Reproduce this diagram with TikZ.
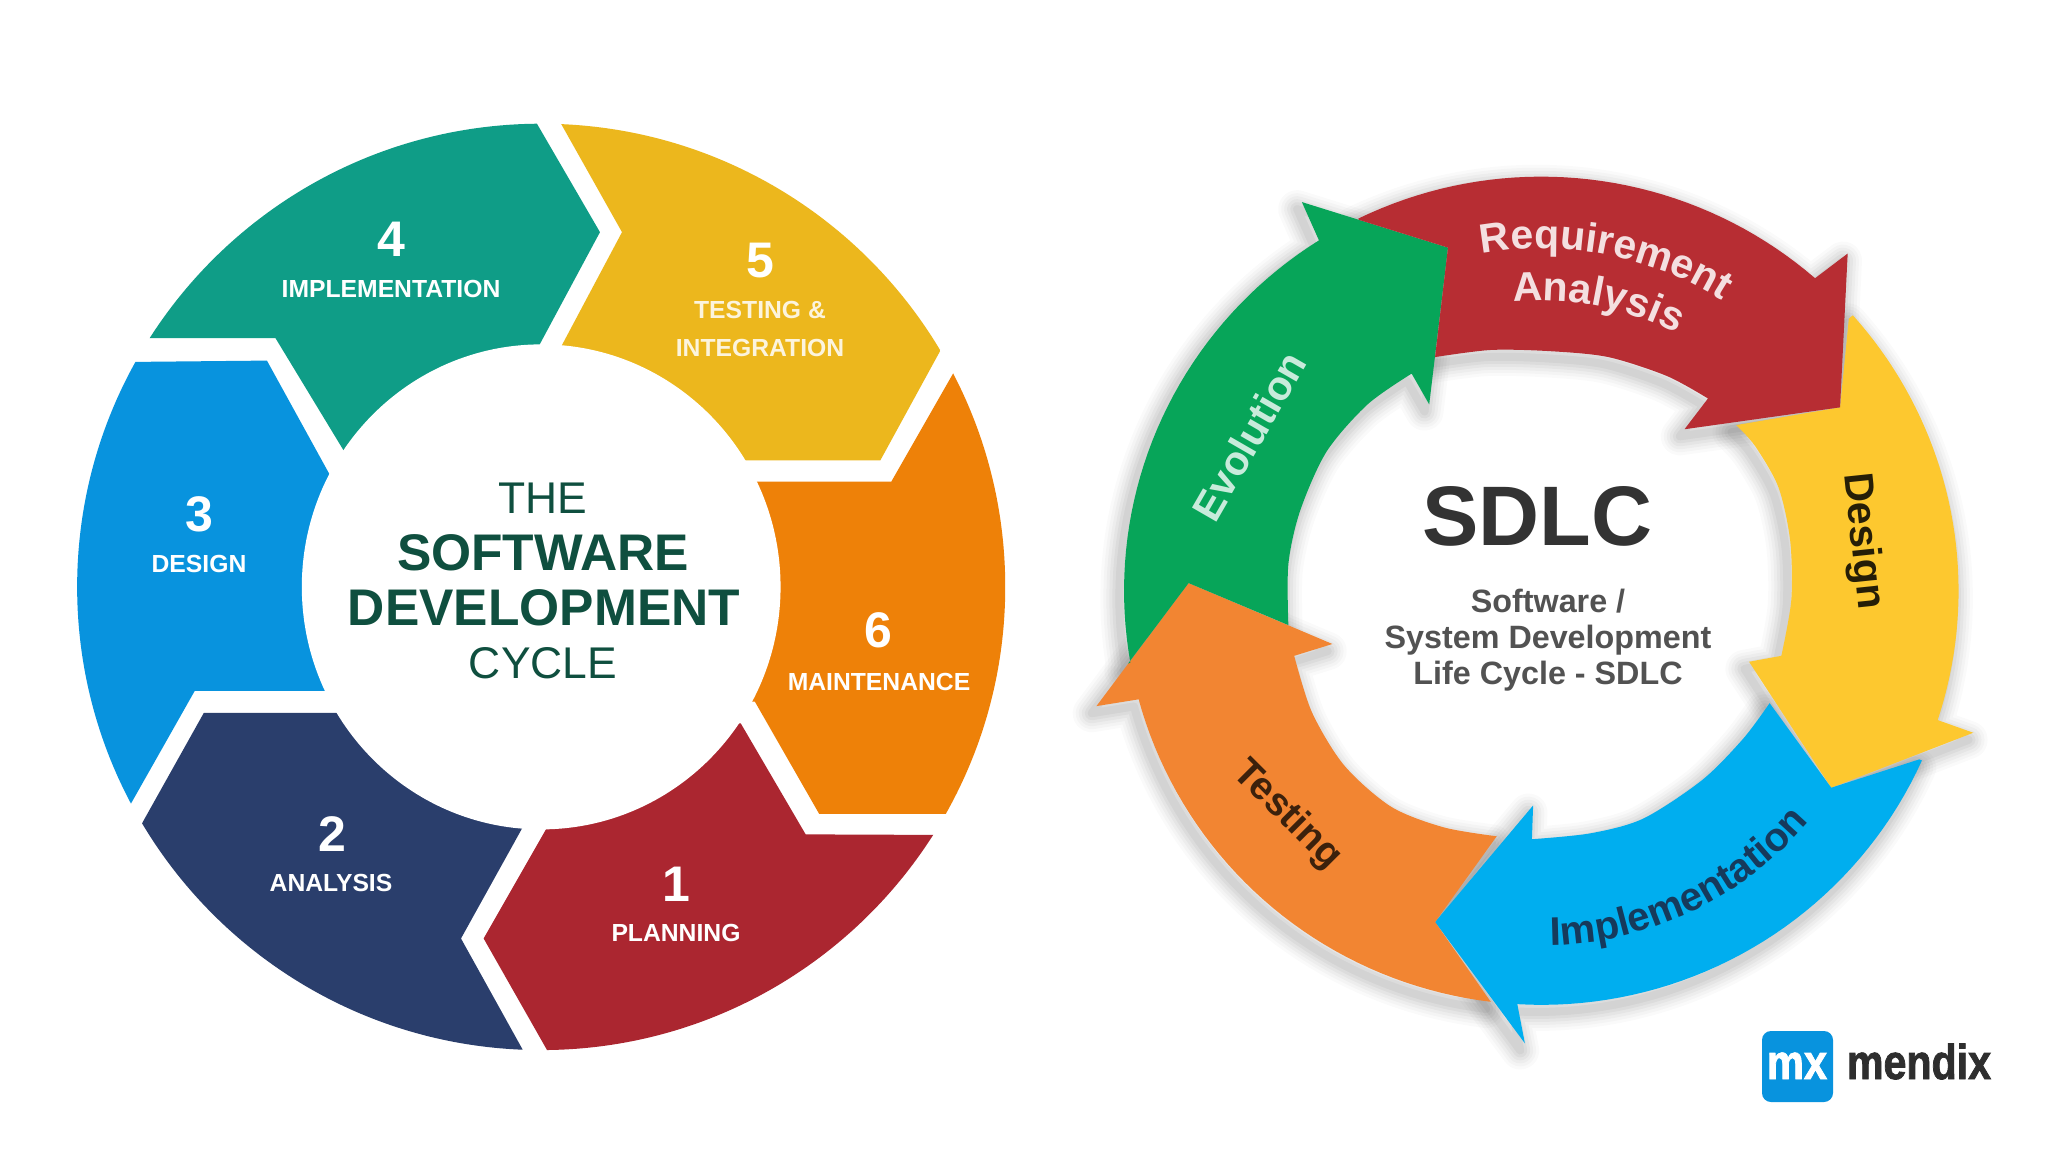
\documentclass[tikz,border=0pt]{standalone}
\usepackage{fontspec}
\setmainfont{Liberation Sans}
\newfontfamily\logofont[FakeBold=1.8]{Liberation Sans}
\usetikzlibrary{decorations.text}
\definecolor{cteal}{HTML}{0F9D87}
\definecolor{cyel}{HTML}{ECB71D}
\definecolor{corg}{HTML}{EE8108}
\definecolor{cred}{HTML}{AB2630}
\definecolor{cnavy}{HTML}{2A3E6C}
\definecolor{cblue}{HTML}{0893DE}
\definecolor{cgreen}{HTML}{0F4F3F}
\definecolor{rred}{HTML}{B72D33}
\definecolor{rgreen}{HTML}{07A559}
\definecolor{rorg}{HTML}{F28532}
\definecolor{rblue}{HTML}{00AEEF}
\definecolor{ryel}{HTML}{FDC82F}
\definecolor{rnavy}{HTML}{163A5C}
\tikzset{
  num/.style={text=white,font=\fontsize{50}{50}\selectfont\bfseries,inner sep=0pt},
  lab/.style={text=white,font=\fontsize{24.7}{25}\selectfont\bfseries,inner sep=0pt},
  centreb/.style={text=cgreen,font=\fontsize{51.5}{52}\selectfont\bfseries,inner sep=0pt},
  centrer/.style={text=cgreen,font=\fontsize{44.4}{45}\selectfont,inner sep=0pt},
  subt/.style={text=black!68,font=\fontsize{32.3}{33}\selectfont\bfseries,inner sep=0pt,anchor=base},
  arclab/.style={font=\fontsize{41}{41}\selectfont\bfseries,inner sep=0pt,anchor=base}
}
\def\pathred{(475,118) -- plot[domain=244:311,samples=40] ({786+711*cos(\x)},{745+700*sin(\x)}) -- (1308,175) -- (1295,435) -- (1030,472) -- (1070,420) -- plot[smooth] coordinates {(1070,420) (1000,382) (900,350) (800,340) (700,338) (605,350)} -- (627,165) -- cycle}
\def\pathyel{(1310,285) -- plot[domain=-41.7:18.2,samples=40] ({786+711*cos(\x)},{745+700*sin(\x)}) -- (1522,985) -- (1280,1078) -- (1140,865) -- (1195,855) -- plot[smooth] coordinates {(1195,855) (1212,760) (1210,660) (1190,570) (1150,500) (1118,465)} -- (1295,435) -- cycle}
\def\pathblu{(1430,1030) -- plot[domain=24.2:93.3,samples=40] ({786+711*cos(\x)},{745+700*sin(\x)}) -- (758,1510) -- (605,1305) -- (772,1108) -- (770,1165) -- plot[smooth] coordinates {(770,1165) (870,1155) (960,1130) (1060,1065) (1130,995) (1175,935)} -- (1280,1078) -- cycle}
\def\pathorg{(700,1440) -- plot[domain=97:164.8,samples=40] ({786+711*cos(\x)},{745+700*sin(\x)}) -- (28,940) -- (185,732) -- (430,835) -- (365,855) -- plot[smooth] coordinates {(365,855) (395,950) (450,1040) (530,1110) (620,1145) (710,1160)} -- (605,1305) -- cycle}
\def\pathgrn{(82,868) -- plot[domain=170:237.8,samples=40] ({786+711*cos(\x)},{745+700*sin(\x)}) -- (378,88) -- (627,165) -- (595,430) -- (565,378) -- plot[smooth] coordinates {(565,378) (490,430) (420,510) (375,610) (355,700) (355,803)} -- (185,732) -- cycle}
\begin{document}
\begin{tikzpicture}[x=1pt,y=-1pt]
\fill[white] (0,0) rectangle (2048,1152);
\path[use as bounding box] (0,0) rectangle (2048,1152);

% left wheel, coordinates of the 960x980 crop
\begin{scope}[shift={(60,100)},x=0.6122pt,y=-0.6234pt]
  \begin{scope}
    \clip (786,781) ellipse [x radius=758,y radius=743];
    \fill[cteal] (-50,382) -- (352,382) -- (520,654) -- (730,490) -- (882,212) -- (727,-50) -- (-50,-50) -- cycle;
    \fill[cyel] (768,-50) -- (918,212) -- (820,393) -- (730,560) -- (1118,578) -- (1340,578) -- (1620,75) -- (1620,-50) -- cycle;
    \fill[corg] (1621,160) -- (1358,612) -- (1145,612) -- (900,612) -- (1000,965) -- (1135,965) -- (1240,1145) -- (1700,1145) -- (1700,160) -- cycle;
    \fill[cred] (1700,1180) -- (1218,1178) -- (1112,1000) -- (900,1000) -- (795,1168) -- (692,1345) -- (795,1523) -- (830,1600) -- (1700,1600) -- cycle;
    \fill[cnavy] (-50,1500) -- (137,1155) -- (235,983) -- (450,983) -- (640,1000) -- (755,1168) -- (655,1345) -- (755,1522) -- (800,1600) -- (-50,1600) -- cycle;
    \fill[cblue] (-50,1420) -- (118,1125) -- (220,948) -- (432,948) -- (640,900) -- (560,800) -- (440,600) -- (338,418) -- (135,420) -- (-50,420) -- cycle;
  \end{scope}
  \fill[white] (786,781) ellipse [x radius=391,y radius=389];
\end{scope}

\node[num] (n4) at (391,239) {4};
\node[lab] (l4) at (391,289) {IMPLEMENTATION};
\node[num] (n5) at (760,261) {5};
\node[lab,text=white!85!cyel] (l5a) at (760,310) {TESTING \&};
\node[lab,text=white!85!cyel] (l5b) at (760,348) {INTEGRATION};
\node[num] (n6) at (878,630) {6};
\node[lab] (l6) at (879,682) {MAINTENANCE};
\node[num] (n1) at (676,884) {1};
\node[lab] (l1) at (676,933) {PLANNING};
\node[num] (n2) at (332,834) {2};
\node[lab] (l2) at (331,883) {ANALYSIS};
\node[num] (n3) at (199,514) {3};
\node[lab] (l3) at (199,564) {DESIGN};

\node[centrer] (the) at (543,498) {THE};
\node[centreb] (soft) at (543,553) {SOFTWARE};
\node[centreb] (dev) at (544,608) {DEVELOPMENT};
\node[centrer] (cyc) at (543,663) {CYCLE};

% right ring, coordinates of the 920x930 crop
\begin{scope}[shift={(1080,150)},x=0.5869pt,y=-0.5916pt]
  \begin{scope}[shift={(-8,12)}]
  \foreach \w/\o in {38/.018,32/.022,26/.026,20/.03,14/.034,8/.038} {
    \foreach \p in {\pathred,\pathyel,\pathblu,\pathorg,\pathgrn} {
      \draw[line width=\w pt,black,opacity=\o,line join=round] \p;
    }
  }
  \end{scope}
  \fill[ryel] \pathyel;
  \fill[rblue] \pathblu;
  \fill[rorg] \pathorg;
  \fill[rgreen] \pathgrn;
  \fill[rred] \pathred;
  % baselines of the curved labels
  \path[postaction={decorate,decoration={text along path,text align=center,text color=white!85!rred,
     text={|\fontsize{41}{41}\selectfont\bfseries|Requirement}}}]
     plot[domain=256:306,samples=30] ({786+583*cos(\x)},{745+578*sin(\x)});
  \path[postaction={decorate,decoration={text along path,text align=center,text color=white!85!rred,
     text={|\fontsize{41}{41}\selectfont\bfseries|Analysis}}}]
     plot[domain=257:305,samples=30] ({786+500*cos(\x)},{745+490*sin(\x)});
  \path[postaction={decorate,decoration={text along path,text align=center,text color=rnavy,
     text={|\fontsize{40}{40}\selectfont\bfseries|Implementation}}}]
     plot[domain=96:33,samples=30] ({786+600*cos(\x)},{745+600*sin(\x)});
\end{scope}

\node[arclab,anchor=center,rotate=60,text=white!78!rgreen] (evo) at (1249,436) {Evolution};
\node[arclab,anchor=center,rotate=-84,text=black!85!ryel] (des) at (1862,541) {Design};
\node[arclab,anchor=center,rotate=-45,text=black!75!rorg,font=\fontsize{39}{39}\selectfont\bfseries] (tes) at (1287,815) {Testing};

\node[text=black!80,font=\fontsize{84.5}{85}\selectfont\bfseries,inner sep=0pt] (sdlc) at (1537,516) {SDLC};
\node[subt] (s1) at (1548,612) {Software /};
\node[subt] (s2) at (1548,648) {System Development};
\node[subt] (s3) at (1548,684) {Life Cycle - SDLC};

% logo
\fill[cblue,rounded corners=9pt] (1762,1031) rectangle (1833,1102);
\node[inner sep=0pt,text=white,font=\fontsize{49}{49}\logofont\bfseries,xscale=.85,anchor=base] (mx) at (1797,1079) {mx};
\node[inner sep=0pt,text=black!82,font=\fontsize{49}{49}\logofont\bfseries,xscale=.84,anchor=base] (mendix) at (1919,1079) {mendix};
\end{tikzpicture}
\end{document}
